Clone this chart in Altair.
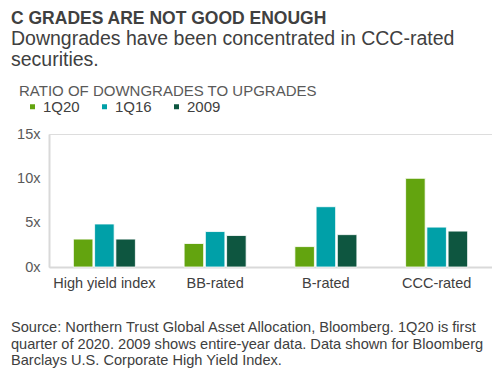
import altair as alt
import pandas as pd

categories = ["High yield index", "BB-rated", "B-rated", "CCC-rated"]
series = ["1Q20", "1Q16", "2009"]
v_1q20 = [3.15, 2.65, 2.3, 10.0]
v_1q16 = [4.85, 4.0, 6.8, 4.5]
v_2009 = [3.15, 3.55, 3.65, 4.05]
colors = ["#63a40f", "#00a0a8", "#0e5640"]

title = "C GRADES ARE NOT GOOD ENOUGH"
subtitle = ["Downgrades have been concentrated in CCC-rated", "securities."]
axis_label = "RATIO OF DOWNGRADES TO UPGRADES"
footnote = [
    "Source: Northern Trust Global Asset Allocation, Bloomberg. 1Q20 is first",
    "quarter of 2020. 2009 shows entire-year data. Data shown for Bloomberg",
    "Barclays U.S. Corporate High Yield Index.",
]

rows = []
for s, vals in zip(series, [v_1q20, v_1q16, v_2009]):
    for c, v in zip(categories, vals):
        rows.append({"cat": c, "series": s, "value": v})
df = pd.DataFrame(rows)

FONT = "Liberation Sans"
TXT = "#404040"

bars = alt.Chart(df).mark_bar(stroke="white", strokeWidth=0.8).encode(
    x=alt.X("cat:N", sort=categories, title=None,
            scale=alt.Scale(paddingInner=0.44, paddingOuter=0.22),
            axis=alt.Axis(labelAngle=0, ticks=False, domainColor="#d9d9d9", domainWidth=2,
                          labelFontSize=14.5, labelColor=TXT, labelFont=FONT, labelPadding=9)),
    xOffset=alt.XOffset("series:N", sort=series, scale=alt.Scale(paddingInner=0.08)),
    y=alt.Y("value:Q", title=None,
            scale=alt.Scale(domain=[0, 15], nice=False),
            axis=alt.Axis(values=[0, 5, 10, 15], labelExpr="datum.value + 'x'", grid=False,
                          ticks=False, domainColor="#d9d9d9", domainWidth=2,
                          labelFontSize=14.5, labelColor="#595959", labelFont=FONT, labelPadding=9)),
    color=alt.Color("series:N", sort=series,
                    scale=alt.Scale(domain=series, range=colors),
                    legend=alt.Legend(title=None, orient="none", legendX=-24, legendY=-35,
                                      direction="horizontal", symbolType="square", symbolSize=25,
                                      labelFontSize=15, labelColor=TXT, labelFont=FONT,
                                      labelOffset=3, columnPadding=17, symbolStrokeWidth=0,
                                      padding=0)),
)

def text_layer(lines, x, y, size, weight="normal", color=TXT, lh=None):
    d = pd.DataFrame({"t": [lines]})
    return alt.Chart(d).mark_text(align="left", baseline="alphabetic", font=FONT, fontSize=size,
                                  fontWeight=weight, color=color,
                                  lineHeight=lh if lh else size * 1.2).encode(
        text="t", x=alt.value(x), y=alt.value(y))

t1 = text_layer(title, -38, -110, 17.5, "bold")
t2 = text_layer(subtitle, -38, -89, 19.5, lh=21)
t3 = text_layer(axis_label, -30, -38, 15, color="#595959")
t4 = text_layer(footnote, -38, 198, 14.6, lh=16.5)

chart = alt.layer(bars, t1, t2, t3, t4).properties(
    width=443, height=133,
    autosize=alt.AutoSizeParams(type="none"),
    padding={"left": 41, "top": 126, "right": 0, "bottom": 101},
).configure_view(stroke=None).configure(background="white")

chart.save("out.html", embed_options={"renderer": "svg", "actions": False})
